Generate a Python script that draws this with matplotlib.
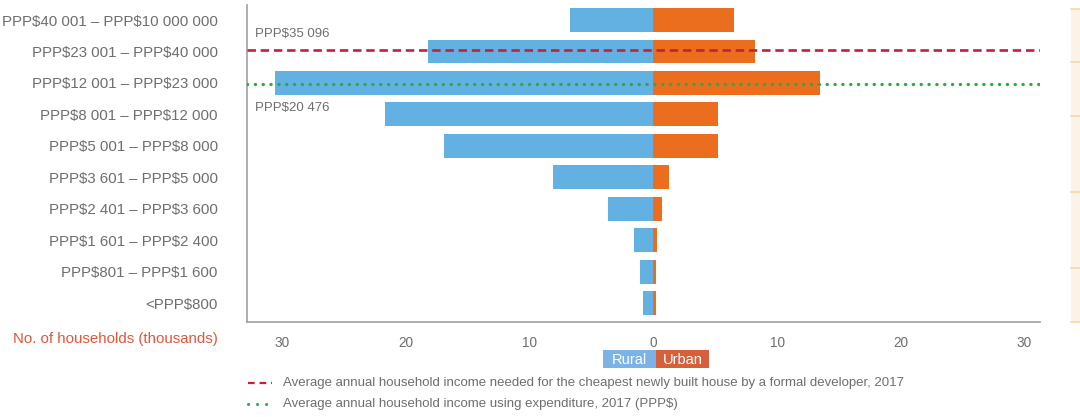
import matplotlib.pyplot as plt
from matplotlib.patches import Rectangle
from matplotlib.lines import Line2D

# ----------------- Data -----------------
bands = [
    "PPP$40 001 – PPP$10 000 000",
    "PPP$23 001 – PPP$40 000",
    "PPP$12 001 – PPP$23 000",
    "PPP$8 001 – PPP$12 000",
    "PPP$5 001 – PPP$8 000",
    "PPP$3 601 – PPP$5 000",
    "PPP$2 401 – PPP$3 600",
    "PPP$1 601 – PPP$2 400",
    "PPP$801 – PPP$1 600",
    "<PPP$800",
]
rural = [6.7, 18.2, 30.6, 21.7, 16.9, 8.1, 3.7, 1.6, 1.1, 0.8]
urban = [6.5, 8.2, 13.5, 5.2, 5.2, 1.25, 0.7, 0.3, 0.22, 0.22]
xticks = [-30, -20, -10, 0, 10, 20, 30]

# reference incomes, placed on the band axis (band index from the bottom)
house_income_label = "PPP$35 096"
house_income_pos = 8.06
expend_income_label = "PPP$20 476"
expend_income_pos = 6.96

# ----------------- Style -----------------
plt.rcParams["font.family"] = ["Liberation Sans Narrow", "Liberation Sans", "DejaVu Sans"]
plt.rcParams["text.parse_math"] = False   # keep the $ signs literal
GREY = "#6e6e6e"
BLUE = "#63b1e3"
ORANGE = "#eb6e1f"
RED = "#c4203a"
GREEN = "#2ea84a"
LABEL_SIZE = 10.8

fig = plt.figure(figsize=(10.8, 4.17), dpi=100)
ax = fig.add_axes([247 / 1080, 1 - 322 / 417, (1040 - 247) / 1080, (322 - 5) / 417])

n = len(bands)
ypos = list(range(n))[::-1]   # first band at the top
ax.barh(ypos, [-v for v in rural], height=0.76, color=BLUE, linewidth=0)
ax.barh(ypos, urban, height=0.76, color=ORANGE, linewidth=0)

ax.axhline(house_income_pos, color=RED, lw=1.9, linestyle=(0, (3.2, 1.8)), zorder=3)
ax.axhline(expend_income_pos, color=GREEN, lw=2.4, linestyle=(0, (0.05, 2.3)),
           dash_capstyle="round", zorder=3)
ax.text(-32.2, house_income_pos + 0.3, house_income_label, fontsize=9.5, color=GREY,
        va="bottom", ha="left")
ax.text(-32.2, expend_income_pos - 0.58, expend_income_label, fontsize=9.5, color=GREY,
        va="top", ha="left")

ax.set_xlim(-32.85, 31.26)
ax.set_ylim(-0.6, 9.48)
ax.set_xticks(xticks)
ax.set_xticklabels([str(abs(t)) for t in xticks])
ax.set_yticks(ypos)
ax.set_yticklabels(bands)
ax.tick_params(axis="y", length=0, pad=21, labelsize=LABEL_SIZE, labelcolor=GREY)
ax.tick_params(axis="x", length=0, pad=10, labelsize=9.8, labelcolor=GREY)

for side in ["top", "right"]:
    ax.spines[side].set_visible(False)
for side in ["left", "bottom"]:
    ax.spines[side].set_color("#a8a8a8")
    ax.spines[side].set_linewidth(1.3)

fig.text(218 / 1080, 1 - 339 / 417, "No. of households (thousands)", fontsize=LABEL_SIZE,
         color="#e0573a", ha="right", va="center")

# ----------------- Rural / Urban key -----------------
fig.patches.append(Rectangle((603 / 1080, 1 - 368 / 417), 53 / 1080, 18 / 417,
                             transform=fig.transFigure, color="#7bb3e6", lw=0))
fig.patches.append(Rectangle((656 / 1080, 1 - 368 / 417), 53 / 1080, 18 / 417,
                             transform=fig.transFigure, color="#d65f3c", lw=0))
fig.text(629.5 / 1080, 1 - 359.5 / 417, "Rural", color="white", fontsize=10.5,
         ha="center", va="center")
fig.text(682.5 / 1080, 1 - 359.5 / 417, "Urban", color="white", fontsize=10.5,
         ha="center", va="center")

# ----------------- Line key -----------------
fig.lines.append(Line2D([248 / 1080, 272 / 1080], [1 - 383 / 417] * 2, transform=fig.transFigure,
                        color=RED, lw=1.6, linestyle=(0, (3.0, 2.2))))
fig.lines.append(Line2D([248 / 1080, 273 / 1080], [1 - 404 / 417] * 2, transform=fig.transFigure,
                        color=GREEN, lw=2.2, linestyle=(0, (0.05, 2.9)), dash_capstyle="round"))
fig.text(283 / 1080, 1 - 383 / 417,
         "Average annual household income needed for the cheapest newly built house by a formal developer, 2017",
         fontsize=9.5, color=GREY, ha="left", va="center")
fig.text(283 / 1080, 1 - 404 / 417, "Average annual household income using expenditure, 2017 (PPP$)",
         fontsize=9.5, color=GREY, ha="left", va="center")

# ----------------- Neighbouring panel edge -----------------
fig.patches.append(Rectangle((1071 / 1080, 1 - 322 / 417), 9 / 1080, 313 / 417,
                             transform=fig.transFigure, color="#fcf3e6", lw=0))
for yy in [9, 62, 116, 192, 268, 322]:
    fig.lines.append(Line2D([1071 / 1080, 1.0], [1 - yy / 417] * 2, transform=fig.transFigure,
                            color="#f5d8a8", lw=1.2))

fig.savefig("out.png", dpi=100)
